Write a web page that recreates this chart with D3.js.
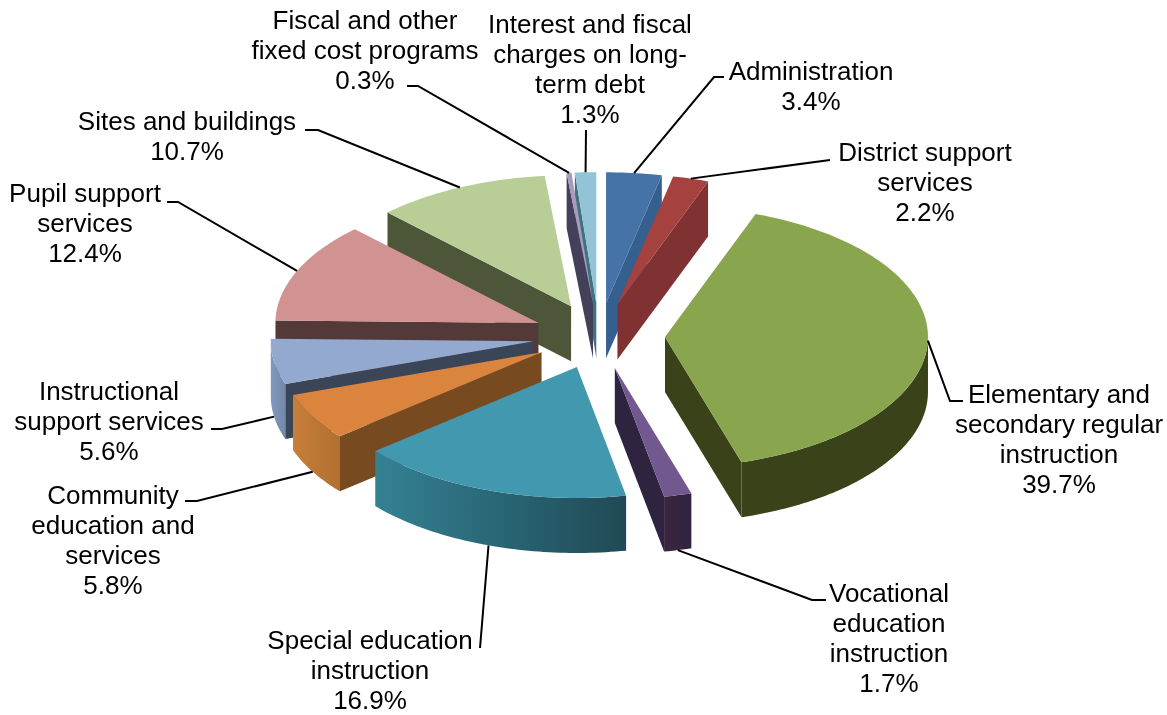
<!DOCTYPE html>
<html><head><meta charset="utf-8">
<script src="https://cdn.jsdelivr.net/npm/d3@7"></script>
<style>html,body{margin:0;background:#fff}svg{display:block;filter:blur(0.4px)}text{font-family:"Liberation Sans",Arial,sans-serif;font-size:26px;fill:#000}</style>
</head><body><svg id="c" width="1167" height="715"></svg>
<script>
const categories=["Administration","District support services","Elementary and secondary regular instruction","Vocational education instruction","Special education instruction","Community education and services","Instructional support services","Pupil support services","Sites and buildings","Fiscal and other fixed cost programs","Interest and fiscal charges on long-term debt"];
const values=[3.4,2.2,39.7,1.7,16.9,5.8,5.6,12.4,10.7,0.3,1.3];
const labelLines=[["Administration"],["District support","services"],["Elementary and","secondary regular","instruction"],["Vocational","education","instruction"],["Special education","instruction"],["Community","education and","services"],["Instructional","support services"],["Pupil support","services"],["Sites and buildings"],["Fiscal and other","fixed cost programs"],["Interest and fiscal","charges on long-","term debt"]];
const topColors=["#4572a7","#a5413f","#89a54e","#71588f","#4198af","#db843d","#93a9cf","#d19392","#b9cd96","#a99bbd","#92c3d6"];
const wallColors=["#355f8f","#7f3231","#394219","#2f2440","#24505e","#774a20","#3a4558","#533a39","#4d5638","#45405a","#3e7480"];
const outerFrom=["#355f8f","#7f3231","#394219","#3b2540","#348194","#c87f3a","#8199bd","#533a39","#4d5638","#45405a","#3e7480"];
const outerTo=["#355f8f","#7f3231","#394219","#2f2440","#1f4a55","#b06f30","#7388ab","#533a39","#4d5638","#45405a","#3e7480"];
const labelX=[811,925,1059,889,370,113,109,85,187,365,590];
const labelY=[71,152,394,593,640,495,391,193,121,20,24];
const elbowX=[714,830,950,812,480,197,222,178,318,418,586];
const elbowY=[77,160,401,600,648,501,429,202,130,86,130];
const tailX=[724,830,963,826,480,185,211,167,305,407,586];

const W=1167,H=715,svg=d3.select("#c");
const cx=599,cy=336,rx=263,ry=131,explode=66,depth=55,lineH=30;
const xS=d3.scaleLinear().domain([-1,1]).range([cx-rx,cx+rx]);
const yS=d3.scaleLinear().domain([-1,1]).range([cy-ry,cy+ry]);
const pie=d3.pie().sort(null).value(d=>d);
const arcs=pie(values).map((a,i)=>({...a,i,mid:(a.startAngle+a.endAngle)/2}));
const ex=explode/rx;
function P(a,mid,r,z){
  return [xS(ex*Math.sin(mid)+r*Math.sin(a)), yS(-(ex*Math.cos(mid)+r*Math.cos(a)))+z];
}
const line=d3.line();
function rim(a0,a1,mid,z){const n=Math.max(2,Math.ceil((a1-a0)/0.02));return d3.range(n+1).map(k=>P(a0+(a1-a0)*k/n,mid,1,z));}
const defs=svg.append("defs");
const HALF=Math.PI/2,PI=Math.PI;
const order=arcs.slice().sort((a,b)=>(-Math.cos(a.mid))-(-Math.cos(b.mid)));
const g=svg.append("g");
order.forEach(d=>{
  const s=g.append("g");
  const c=P(0,d.mid,0,0),c2=P(0,d.mid,0,depth);
  const A=d.startAngle,B=d.endAngle;
  if(A>PI&&A<2*PI) s.append("path").attr("d",line([c,P(A,d.mid,1,0),P(A,d.mid,1,depth),c2])+"Z").attr("fill",wallColors[d.i]);
  if(B>0&&B<PI) s.append("path").attr("d",line([c,P(B,d.mid,1,0),P(B,d.mid,1,depth),c2])+"Z").attr("fill",wallColors[d.i]);
  const o0=Math.max(A,HALF),o1=Math.min(B,3*HALF);
  if(o1>o0){
    const id="o"+d.i,p0=P(o0,d.mid,1,0),p1=P(o1,d.mid,1,0);
    const gr=defs.append("linearGradient").attr("id",id).attr("gradientUnits","userSpaceOnUse").attr("x1",p1[0]).attr("x2",p0[0]).attr("y1",0).attr("y2",0);
    gr.append("stop").attr("offset",0).attr("stop-color",outerFrom[d.i]);
    gr.append("stop").attr("offset",1).attr("stop-color",outerTo[d.i]);
    s.append("path").attr("d",line(rim(o0,o1,d.mid,0).concat(rim(o0,o1,d.mid,depth).reverse()))+"Z").attr("fill",`url(#${id})`);
  }
  s.append("path").attr("d",line([c].concat(rim(A,B,d.mid,0)))+"Z").attr("fill",topColors[d.i]);
});
arcs.forEach(d=>{
  const start=P(d.mid,d.mid,1,d.i==2?0:(Math.cos(d.mid)<0?depth:0));
  const pts=[start,[elbowX[d.i],elbowY[d.i]]];
  if(tailX[d.i]!==elbowX[d.i]) pts.push([tailX[d.i],elbowY[d.i]]);
  svg.append("path").attr("d",line(pts)).attr("fill","none").attr("stroke","#000").attr("stroke-width",2);
});
categories.forEach((cat,i)=>{
  const t=svg.append("text").attr("text-anchor","middle").attr("aria-label",cat);
  labelLines[i].concat(values[i].toFixed(1)+"%").forEach((l,k)=>{
    t.append("tspan").attr("x",labelX[i]).attr("y",labelY[i]+k*lineH+9).text(l);
  });
});
</script></body></html>
